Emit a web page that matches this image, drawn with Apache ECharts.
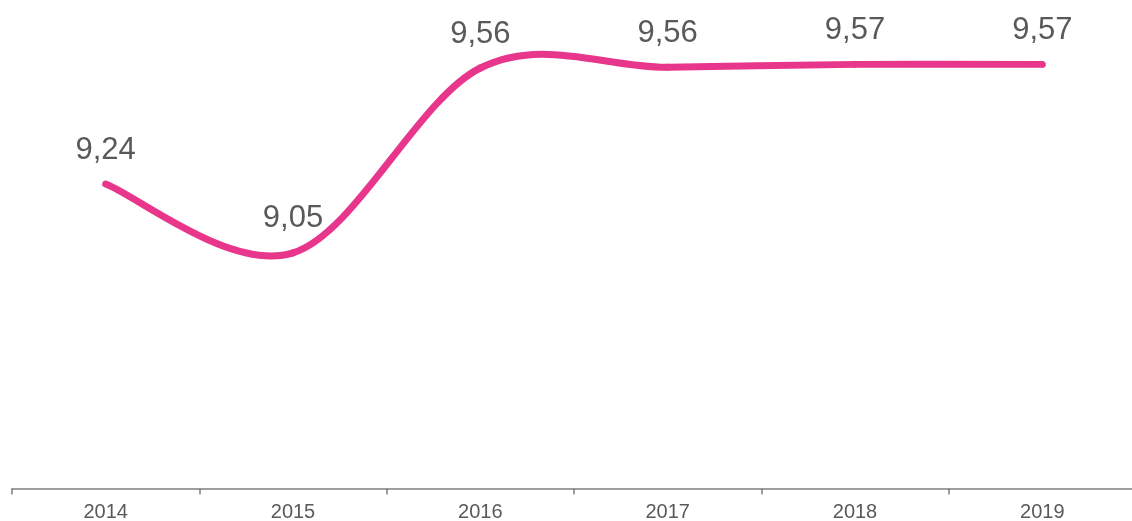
<!DOCTYPE html>
<html>
<head>
<meta charset="utf-8">
<script src="https://cdn.jsdelivr.net/npm/echarts@6/dist/echarts.min.js"></script>
<style>
html,body{margin:0;padding:0;background:#fff;}
#chart{width:1132px;height:521px;}
</style>
</head>
<body>
<div id="chart"></div>
<script>
// Data
const years = ['2014', '2015', '2016', '2017', '2018', '2019'];
const values = [9.24, 9.05, 9.56, 9.562, 9.57, 9.57];

const LINE_COLOR = '#E8368C';
const TEXT_COLOR = '#595959';
const FONT = '"Liberation Sans", Arial, sans-serif';

function fmt(v) { return v.toFixed(2).replace('.', ','); }

const chart = echarts.init(document.getElementById('chart'), null, { renderer: 'canvas' });

function renderItem(params, api) {
  const i = params.dataIndex;
  const n = values.length;
  const P = j => api.coord([Math.max(0, Math.min(n - 1, j)), values[Math.max(0, Math.min(n - 1, j))]]);
  const p0 = P(i);
  const children = [];
  if (i < n - 1) {
    const pPrev = P(i - 1), p1 = P(i + 1), pNext = P(i + 2);
    const t = 1 / 6;
    children.push({
      type: 'bezierCurve',
      shape: {
        x1: p0[0], y1: p0[1],
        x2: p1[0], y2: p1[1],
        cpx1: p0[0] + (p1[0] - pPrev[0]) * t,
        cpy1: p0[1] + (p1[1] - pPrev[1]) * t,
        cpx2: p1[0] - (pNext[0] - p0[0]) * t,
        cpy2: p1[1] - (pNext[1] - p0[1]) * t
      },
      style: { stroke: LINE_COLOR, lineWidth: 7, lineCap: 'round', fill: null }
    });
  }
  children.push({
    type: 'text',
    z2: 10,
    style: {
      text: fmt(values[i]),
      x: p0[0], y: p0[1] - 34,
      align: 'center', verticalAlign: 'middle',
      fontSize: 31, fontFamily: FONT, fill: TEXT_COLOR
    }
  });
  return { type: 'group', children: children };
}

chart.setOption({
  animation: false,
  backgroundColor: '#ffffff',
  grid: { left: 12, width: 1124, top: 10, bottom: 32.5, containLabel: false, outerBoundsMode: 'none' },
  xAxis: {
    type: 'category',
    data: years,
    boundaryGap: true,
    axisLine: { show: true, lineStyle: { color: '#7f7f7f', width: 1.5 } },
    axisTick: { show: true, length: 6, lineStyle: { color: '#7f7f7f', width: 1.5 } },
    axisLabel: { color: TEXT_COLOR, fontSize: 20, fontFamily: FONT, margin: 14 },
    splitLine: { show: false }
  },
  yAxis: {
    type: 'value',
    min: 8.4,
    max: 9.72,
    show: false,
    splitLine: { show: false }
  },
  series: [{
    type: 'custom',
    name: 'Valor',
    clip: false,
    renderItem: renderItem,
    data: values.map((v, i) => [i, v]),
    encode: { x: 0, y: 1 }
  }]
});
</script>
</body>
</html>
